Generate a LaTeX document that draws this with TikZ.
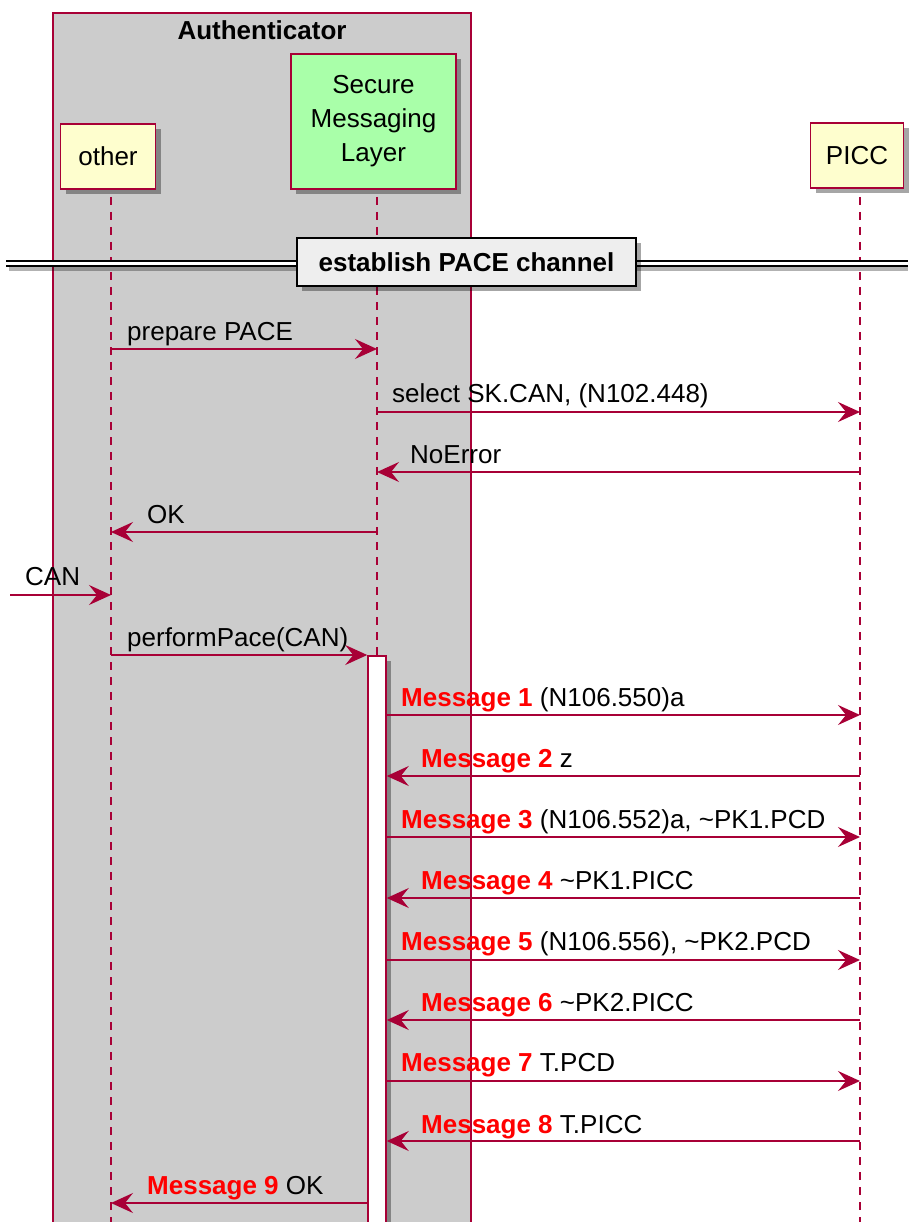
\documentclass[tikz,border=0pt]{standalone}
\usepackage{fontspec}
\setmainfont{Liberation Sans}
\usetikzlibrary{arrows.meta,shadows}
\definecolor{bord}{HTML}{A80036}
\definecolor{partfill}{HTML}{FEFECE}
\definecolor{smlfill}{HTML}{A9FFA9}
\definecolor{grpfill}{HTML}{CCCCCC}
\definecolor{divfill}{HTML}{EEEEEE}
\definecolor{msgred}{HTML}{FF0000}
\begin{document}
\begin{tikzpicture}[x=1pt,y=-1pt,
  font=\fontsize{26}{34}\selectfont,
  shad/.style={drop shadow={shadow xshift=5pt,shadow yshift=-5pt,fill=black,opacity=.35}},
  part/.style={draw=bord, line width=1.5pt, fill=partfill, minimum height=65pt, align=center, inner sep=0pt, shad},
  life/.style={draw=bord, line width=1.5pt, dash pattern=on 8pt off 7pt},
  msg/.style={draw=bord, line width=1.6pt, -{Stealth[length=22pt,width=20pt,inset=8pt]}},
  lbl/.style={anchor=base west, inner sep=0pt},
  actbar/.style={draw=bord, line width=1.5pt, fill=white, minimum width=18pt, minimum height=620pt, inner sep=0pt, anchor=north, shad},
  divbox/.style={draw=black, line width=2pt, fill=divfill, minimum width=339pt, minimum height=48pt, inner sep=0pt, shad}
]
\useasboundingbox (0,0) rectangle (908,1222);
% group box
\draw[draw=bord, line width=1.5pt, fill=grpfill] (53,13) rectangle (471,1240);
\node[anchor=center, inner sep=0pt] (grp) at (262,30) {\bfseries Authenticator};
% participants
\node[part, minimum width=95pt] (other) at (108,156.5) {other};
\node[part, minimum width=165pt, minimum height=135pt, fill=smlfill] (sml) at (373.5,121.5) {Secure\\Messaging\\Layer};
\node[part, minimum width=93pt] (picc) at (857,155.5) {PICC};
% lifeline coordinates
\coordinate (Lo) at (111,197);
\coordinate (Ls) at (377,197);
\coordinate (Lp) at (860,197);
\coordinate (Lo2) at (111,1230);
\coordinate (Ls2) at (377,1230);
\coordinate (Lp2) at (860,1230);
\draw[life] (Lo) -- (Lo2);
\draw[life] (Ls) -- (Ls2);
\draw[life] (Lp) -- (Lp2);
% divider
\fill[black,opacity=.3] (9,264) rectangle (908,271);
\filldraw[fill=white, draw=none] (6,261) rectangle (908,266);
\draw[line width=1.2pt] (6,261) -- (908,261);
\draw[line width=1.2pt] (6,266) -- (908,266);
\node[divbox] (div) at (466.5,262) {\bfseries establish PACE channel};
% message rows
\foreach \n/\yy in {a/349,b/412,c/472,d/532,e/595,f/655,g/715,h/776,i/837,j/898,k/960,l/1020,m/1081,n/1141,o/1203}
  \coordinate (y\n) at (0,\yy);
\coordinate (ext) at (10,595);
% activation bar
\node[actbar] (act) at (377,655) {};
% messages
\draw[msg] (Lo |- ya) -- (Ls |- ya);
\node[lbl] (ta) at (127,340) {prepare PACE};
\draw[msg] (Ls |- yb) -- (Lp |- yb);
\node[lbl] (tb) at (392,402) {select SK.CAN, (N102.448)};
\draw[msg] (Lp |- yc) -- (Ls |- yc);
\node[lbl] (tc) at (410,463) {NoError};
\draw[msg] (Ls |- yd) -- (Lo |- yd);
\node[lbl] (td) at (147,523) {OK};
\draw[msg] (ext) -- (Lo |- ye);
\node[lbl] (te) at (25,585) {CAN};
\draw[msg] (Lo |- yf) -- (act.west |- yf);
\node[lbl] (tf) at (127,646) {performPace(CAN)};
\draw[msg] (act.east |- yg) -- (Lp |- yg);
\node[lbl] (tg) at (401,706) {\textcolor{msgred}{\bfseries Message 1} (N106.550)a};
\draw[msg] (Lp |- yh) -- (act.east |- yh);
\node[lbl] (th) at (421,767) {\textcolor{msgred}{\bfseries Message 2} z};
\draw[msg] (act.east |- yi) -- (Lp |- yi);
\node[lbl] (ti) at (401,828) {\textcolor{msgred}{\bfseries Message 3} (N106.552)a, \char`\~PK1.PCD};
\draw[msg] (Lp |- yj) -- (act.east |- yj);
\node[lbl] (tj) at (421,889) {\textcolor{msgred}{\bfseries Message 4} \char`\~PK1.PICC};
\draw[msg] (act.east |- yk) -- (Lp |- yk);
\node[lbl] (tk) at (401,950) {\textcolor{msgred}{\bfseries Message 5} (N106.556), \char`\~PK2.PCD};
\draw[msg] (Lp |- yl) -- (act.east |- yl);
\node[lbl] (tl) at (421,1011) {\textcolor{msgred}{\bfseries Message 6} \char`\~PK2.PICC};
\draw[msg] (act.east |- ym) -- (Lp |- ym);
\node[lbl] (tm) at (401,1071) {\textcolor{msgred}{\bfseries Message 7} T.PCD};
\draw[msg] (Lp |- yn) -- (act.east |- yn);
\node[lbl] (tn) at (421,1133) {\textcolor{msgred}{\bfseries Message 8} T.PICC};
\draw[msg] (act.west |- yo) -- (Lo |- yo);
\node[lbl] (to) at (147,1194) {\textcolor{msgred}{\bfseries Message 9} OK};
\end{tikzpicture}
\end{document}
